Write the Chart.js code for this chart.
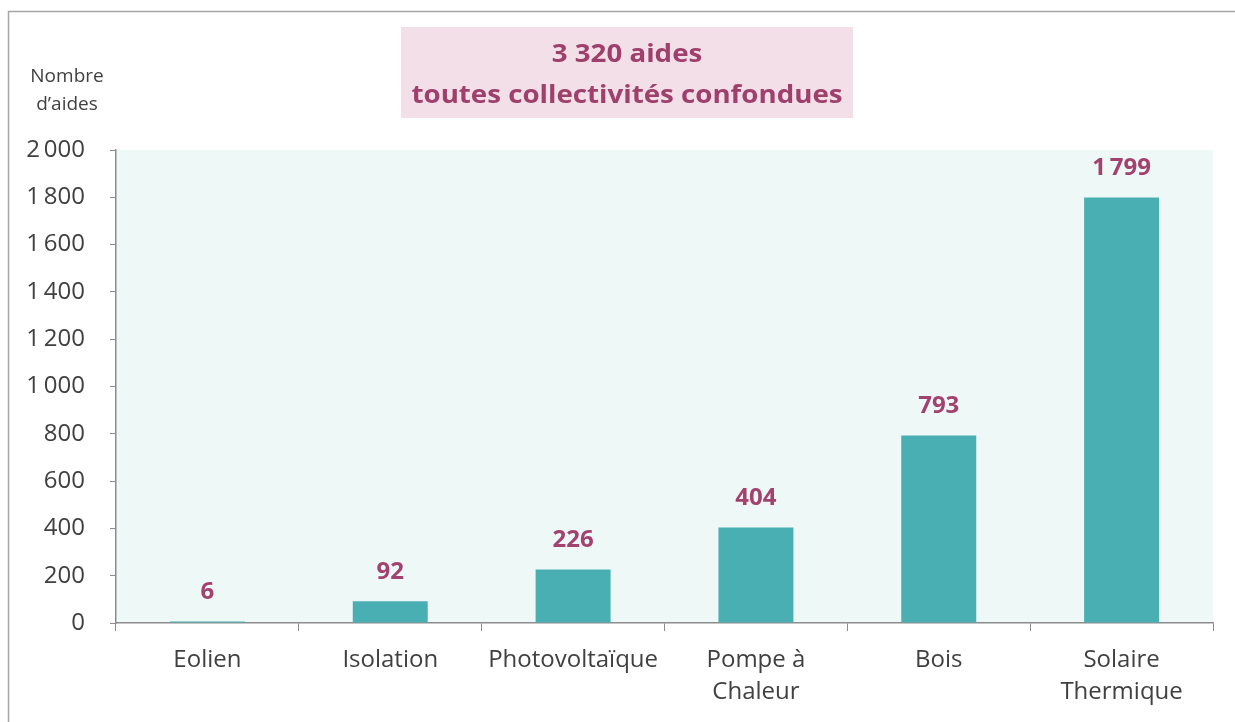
<!DOCTYPE html>
<html>
<head>
<meta charset="utf-8">
<script src="https://cdn.jsdelivr.net/npm/chart.js@4"></script>
<style>
html,body{margin:0;padding:0;background:#fff;}
#wrap{width:1235px;height:722px;position:relative;}
</style>
</head>
<body>
<div id="wrap"><canvas id="c" width="1235" height="722"></canvas></div>
<script>
const categories = [["Eolien"], ["Isolation"], ["Photovoltaïque"], ["Pompe à", "Chaleur"], ["Bois"], ["Solaire", "Thermique"]];
const values = [6, 92, 226, 404, 793, 1799];
const yTicks = [0, 200, 400, 600, 800, 1000, 1200, 1400, 1600, 1800, 2000];
const titleLines = ["3 320 aides", "toutes collectivités confondues"];
const yAxisLabel = ["Nombre", "d’aides"];

const FONT = "'Open Sans', Lato, sans-serif";
const fmt = v => String(v).replace(/\B(?=(\d{3})+(?!\d))/g, "\u2009");

const decor = {
  id: 'decor',
  beforeDraw(chart) {
    const ctx = chart.ctx, a = chart.chartArea;
    ctx.save();
    ctx.fillStyle = '#fff';
    ctx.fillRect(0, 0, chart.width, chart.height);
    // frame
    ctx.strokeStyle = '#a6a6a6';
    ctx.lineWidth = 1.5;
    ctx.beginPath();
    ctx.moveTo(8.5, 740); ctx.lineTo(8.5, 11.5); ctx.lineTo(1240, 11.5);
    ctx.stroke();
    // plot background
    ctx.fillStyle = '#edf8f7';
    ctx.fillRect(a.left, a.top, a.right - a.left, a.bottom - a.top);
    // title box
    ctx.fillStyle = '#f3dfe8';
    ctx.fillRect(401, 27, 452, 91);
    ctx.fillStyle = '#9e3f6c';
    ctx.font = "bold 25px " + FONT;
    ctx.textAlign = 'center';
    ctx.textBaseline = 'middle';
    const w = ctx.measureText(titleLines[1]).width;
    const sx = 431 / w;
    ctx.save();
    ctx.translate(627, 0);
    ctx.scale(sx, 1);
    ctx.fillText(titleLines[0], 0, 55);
    ctx.fillText(titleLines[1], 0, 96);
    ctx.restore();
    // y axis label
    ctx.fillStyle = '#404040';
    ctx.font = "19px " + FONT;
    ctx.fillText(yAxisLabel[0], 67, 77);
    ctx.fillText(yAxisLabel[1], 67, 105);
    ctx.restore();
  },
  afterDatasetsDraw(chart) {
    const ctx = chart.ctx;
    const meta = chart.getDatasetMeta(0);
    ctx.save();
    ctx.fillStyle = '#a3416f';
    ctx.font = "bold 24px " + FONT;
    ctx.textAlign = 'center';
    ctx.textBaseline = 'middle';
    meta.data.forEach((bar, i) => {
      ctx.fillText(fmt(values[i]), bar.x, bar.y - 29);
    });
    ctx.restore();
  }
};

new Chart(document.getElementById('c'), {
  type: 'bar',
  data: {
    labels: categories,
    datasets: [{
      data: values,
      backgroundColor: '#4aafb3',
      borderWidth: 0,
      barPercentage: 0.41,
      categoryPercentage: 1.0
    }]
  },
  options: {
    responsive: false,
    animation: false,
    devicePixelRatio: 1,
    layout: { padding: { top: 150, right: 22, bottom: 0, left: 0 } },
    plugins: { legend: { display: false }, tooltip: { enabled: false }, title: { display: false } },
    scales: {
      x: {
        offset: true,
        grid: { offset: true, drawOnChartArea: false, drawTicks: true, tickLength: 8, color: '#8c8c8c', lineWidth: 1 },
        border: { display: true, color: '#8c8c8c', width: 1.5 },
        ticks: { color: '#404040', font: { family: FONT, size: 24, lineHeight: 1.33 }, padding: 13, maxRotation: 0, autoSkip: false },
        afterFit(s) { s.height = 722 - 623; }
      },
      y: {
        min: 0, max: 2000,
        afterBuildTicks(s) { s.ticks = yTicks.map(v => ({ value: v })); },
        grid: { drawOnChartArea: false, drawTicks: true, tickLength: 6, color: '#8c8c8c' },
        border: { display: true, color: '#8c8c8c', width: 1.5 },
        ticks: { color: '#404040', font: { family: FONT, size: 24 }, padding: 25, callback: v => fmt(v) },
        afterFit(s) { s.width = 116; }
      }
    }
  },
  plugins: [decor]
});
</script>
</body>
</html>
